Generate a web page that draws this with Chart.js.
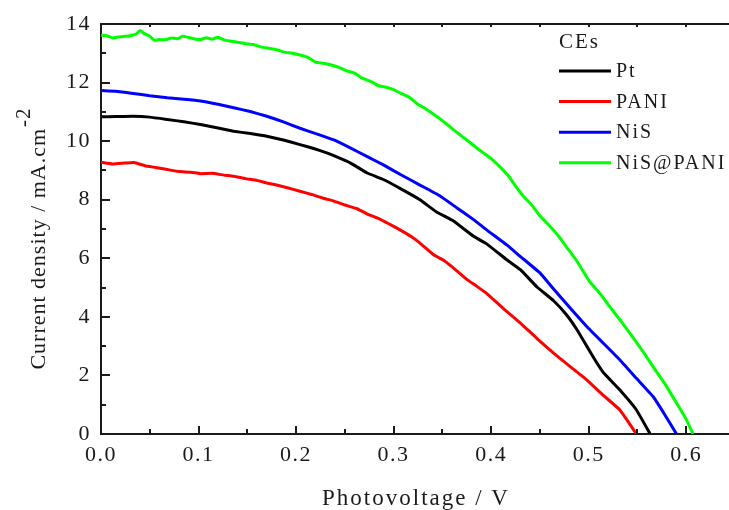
<!DOCTYPE html>
<html>
<head>
<meta charset="utf-8">
<script src="https://cdn.jsdelivr.net/npm/chart.js@4/dist/chart.umd.min.js"></script>
<style>
  html, body { margin: 0; padding: 0; background: #fff; overflow: hidden; }
  #wrap { width: 735px; height: 510px; }
</style>
</head>
<body>
<div id="wrap"><canvas id="jv" width="735" height="510"></canvas></div>
<script>
// J–V curves of dye-sensitized cells with different counter electrodes (CEs)
const seriesNames = ['Pt', 'PANI', 'NiS', 'NiS@PANI'];
const seriesColors = ['#000000', '#ff0000', '#0000ff', '#00ff00'];

const ptV = [0, .015, .033, .05, .068, .085, .102, .12, .136, .153, .170, .187, .204, .218, .2315, .2435, .2555, .2725, .2895, .307,
  .327, .344, .361, .382, .395, .416, .430, .447, .464, .477, .488, .498, .507, .515, .532, .549, .563];
const ptJ = [10.83, 10.84, 10.85, 10.82, 10.74, 10.66, 10.57, 10.45, 10.34, 10.26, 10.17, 10.04, 9.88, 9.75, 9.60, 9.44, 9.26, 8.92, 8.69, 8.38,
  8.00, 7.58, 7.28, 6.75, 6.50, 5.95, 5.61, 5.02, 4.55, 4.08, 3.56, 3.00, 2.50, 2.10, 1.50, 0.82, 0];

const paniV = [0, .012, .024, .034, .045, .056, .068, .080, .092, .102, .114, .126, .136, .148, .160, .170, .180, .192, .204, .216,
  .228, .238, .250, .262, .2725, .283, .295, .307, .318, .327, .341, .352, .361, .375, .385, .395, .412, .430, .447, .464,
  .481, .498, .515, .532, .549];
const paniJ = [9.28, 9.22, 9.25, 9.27, 9.16, 9.10, 9.03, 8.96, 8.94, 8.89, 8.90, 8.84, 8.80, 8.72, 8.66, 8.57, 8.50, 8.40, 8.29, 8.18,
  8.05, 7.96, 7.82, 7.70, 7.52, 7.38, 7.18, 6.96, 6.74, 6.52, 6.12, 5.92, 5.68, 5.28, 5.05, 4.81, 4.30, 3.79, 3.26, 2.76,
  2.30, 1.85, 1.32, 0.82, 0];

const nisV = [0, .015, .033, .05, .068, .085, .102, .12, .136, .153, .170, .187, .204, .221, .238, .255, .2725, .29, .307, .327,
  .348, .365, .382, .395, .416, .430, .450, .464, .481, .498, .515, .532, .549, .566, .578, .590];
const nisJ = [11.73, 11.70, 11.63, 11.55, 11.48, 11.43, 11.37, 11.26, 11.14, 11.01, 10.85, 10.66, 10.44, 10.25, 10.05, 9.78, 9.48, 9.18, 8.86, 8.50,
  8.12, 7.72, 7.32, 6.98, 6.46, 6.06, 5.50, 4.95, 4.30, 3.67, 3.10, 2.53, 1.90, 1.28, 0.66, 0];

const nisPaniV = [0, .006, .012, .018, .024, .030, .036, .040, .044, .050, .055, .060, .066, .072, .078, .084, .090, .096, .102, .108,
  .114, .120, .126, .132, .140, .148, .156, .164, .172, .180, .188, .196, .204, .212, .220, .228, .236, .244, .252, .260,
  .268, .276, .284, .292, .300, .308, .316, .324, .332, .341, .350, .361, .368, .375, .384, .392, .400, .409, .418, .426,
  .433, .441, .450, .460, .470, .478, .488, .501, .512, .522, .532, .544, .556, .566, .578, .590, .600, .607];
const nisPaniJ = [13.62, 13.60, 13.52, 13.56, 13.58, 13.60, 13.66, 13.78, 13.68, 13.58, 13.44, 13.47, 13.46, 13.52, 13.50, 13.58, 13.54, 13.49, 13.47, 13.53,
  13.48, 13.55, 13.46, 13.42, 13.38, 13.33, 13.30, 13.22, 13.17, 13.12, 13.04, 13.00, 12.94, 12.86, 12.70, 12.66, 12.60, 12.52, 12.40, 12.32,
  12.15, 12.05, 11.90, 11.84, 11.76, 11.62, 11.50, 11.28, 11.12, 10.92, 10.70, 10.40, 10.22, 10.04, 9.80, 9.60, 9.40, 9.12, 8.80, 8.42,
  8.12, 7.84, 7.45, 7.10, 6.72, 6.35, 5.90, 5.20, 4.78, 4.33, 3.90, 3.36, 2.80, 2.30, 1.72, 1.06, 0.50, 0];

const xTicks = [0.0, 0.1, 0.2, 0.3, 0.4, 0.5, 0.6];
const yTicks = [0, 2, 4, 6, 8, 10, 12, 14];

const xs = [ptV, paniV, nisV, nisPaniV];
const ys = [ptJ, paniJ, nisJ, nisPaniJ];

const SERIF = '"Liberation Serif", "Times New Roman", serif';
const INK = '#1a1a1a';

const datasets = seriesNames.map((name, i) => ({
  label: name,
  data: xs[i].map((v, k) => ({ x: v, y: ys[i][k] })),
  borderColor: seriesColors[i],
  backgroundColor: seriesColors[i],
  borderWidth: 3,
  pointRadius: 0,
  tension: 0.1,
  fill: false
}));

// Canvas letter spacing (reset whenever the canvas is resized)
const spacing = {
  id: 'spacing',
  beforeUpdate(chart) { chart.ctx.letterSpacing = '1.5px'; },
  beforeDraw(chart) { chart.ctx.letterSpacing = '1.5px'; }
};

// Inward tick marks, top frame line, axis titles and legend
const decor = {
  id: 'decor',
  afterDraw(chart) {
    const { ctx, chartArea: { left, top, right, bottom }, scales: { x, y } } = chart;
    ctx.save();
    ctx.strokeStyle = INK;
    ctx.lineWidth = 2;
    ctx.beginPath();
    ctx.moveTo(left - 1, top);
    ctx.lineTo(right, top);
    ctx.stroke();

    ctx.beginPath();
    for (let k = 1; k <= 13; k++) {
      const px = Math.round(x.getPixelForValue(k * 0.05));
      const len = (k % 2 === 0) ? 8 : 5;
      ctx.moveTo(px, bottom);
      ctx.lineTo(px, bottom - len);
      ctx.moveTo(px, top);
      ctx.lineTo(px, top + 3);
    }
    for (let j = 1; j <= 14; j++) {
      const py = Math.round(y.getPixelForValue(j));
      const len = (j % 2 === 0) ? 9 : 5;
      ctx.moveTo(left, py);
      ctx.lineTo(left + len, py);
    }
    ctx.stroke();

    ctx.fillStyle = INK;

    // x-axis title
    ctx.letterSpacing = '2px';
    ctx.font = '23px ' + SERIF;
    ctx.textAlign = 'center';
    ctx.textBaseline = 'alphabetic';
    ctx.fillText('Photovoltage / V', (left + 729) / 2 + 1, 505);

    // y-axis title with superscript exponent
    ctx.letterSpacing = '1px';
    ctx.font = '22px ' + SERIF;
    const main = 'Current density / mA.cm';
    const sup = '-2';
    const wMain = ctx.measureText(main).width;
    ctx.font = '21px ' + SERIF;
    const wSup = ctx.measureText(sup).width;
    const total = wMain + wSup;
    ctx.translate(45, 239);
    ctx.rotate(-Math.PI / 2);
    ctx.textAlign = 'left';
    ctx.font = '22px ' + SERIF;
    ctx.fillText(main, -total / 2, 0);
    ctx.font = '21px ' + SERIF;
    ctx.fillText(sup, -total / 2 + wMain + 1, -15);
    ctx.setTransform(1, 0, 0, 1, 0, 0);

    // legend
    ctx.letterSpacing = '2px';
    ctx.textBaseline = 'middle';
    ctx.textAlign = 'left';
    ctx.font = '21px ' + SERIF;
    ctx.fillText('CEs', 559, 42);
    ctx.font = '20px ' + SERIF;
    chart.data.datasets.forEach((ds, i) => {
      const ly = 71 + i * 30.6;
      ctx.strokeStyle = ds.borderColor;
      ctx.lineWidth = 3;
      ctx.beginPath();
      ctx.moveTo(559, ly);
      ctx.lineTo(611, ly);
      ctx.stroke();
      ctx.fillStyle = INK;
      ctx.fillText(ds.label, 616, ly + 1);
    });
    ctx.restore();
  }
};

new Chart(document.getElementById('jv'), {
  type: 'line',
  data: { datasets },
  options: {
    responsive: false,
    animation: false,
    devicePixelRatio: 1,
    layout: { padding: { top: 24, right: 0, bottom: 0, left: 0 } },
    plugins: { legend: { display: false }, tooltip: { enabled: false } },
    scales: {
      x: {
        type: 'linear',
        min: 0,
        max: 0.65,
        afterBuildTicks(scale) { scale.ticks = xTicks.map(v => ({ value: v })); },
        afterFit(scale) { scale.height = 76; },
        grid: { display: false, drawTicks: false },
        border: { display: true, color: INK, width: 2 },
        ticks: {
          color: INK,
          padding: 8,
          maxRotation: 0,
          autoSkip: false,
          font: { family: SERIF, size: 22 },
          callback: v => Number(v).toFixed(1)
        }
      },
      y: {
        type: 'linear',
        min: 0,
        max: 14,
        afterBuildTicks(scale) { scale.ticks = yTicks.map(v => ({ value: v })); },
        afterFit(scale) { scale.width = 101; },
        grid: { display: false, drawTicks: false },
        border: { display: true, color: INK, width: 2 },
        ticks: {
          color: INK,
          padding: 10,
          autoSkip: false,
          font: { family: SERIF, size: 22 },
          callback: v => String(v)
        }
      }
    }
  },
  plugins: [spacing, decor]
});
</script>
</body>
</html>
